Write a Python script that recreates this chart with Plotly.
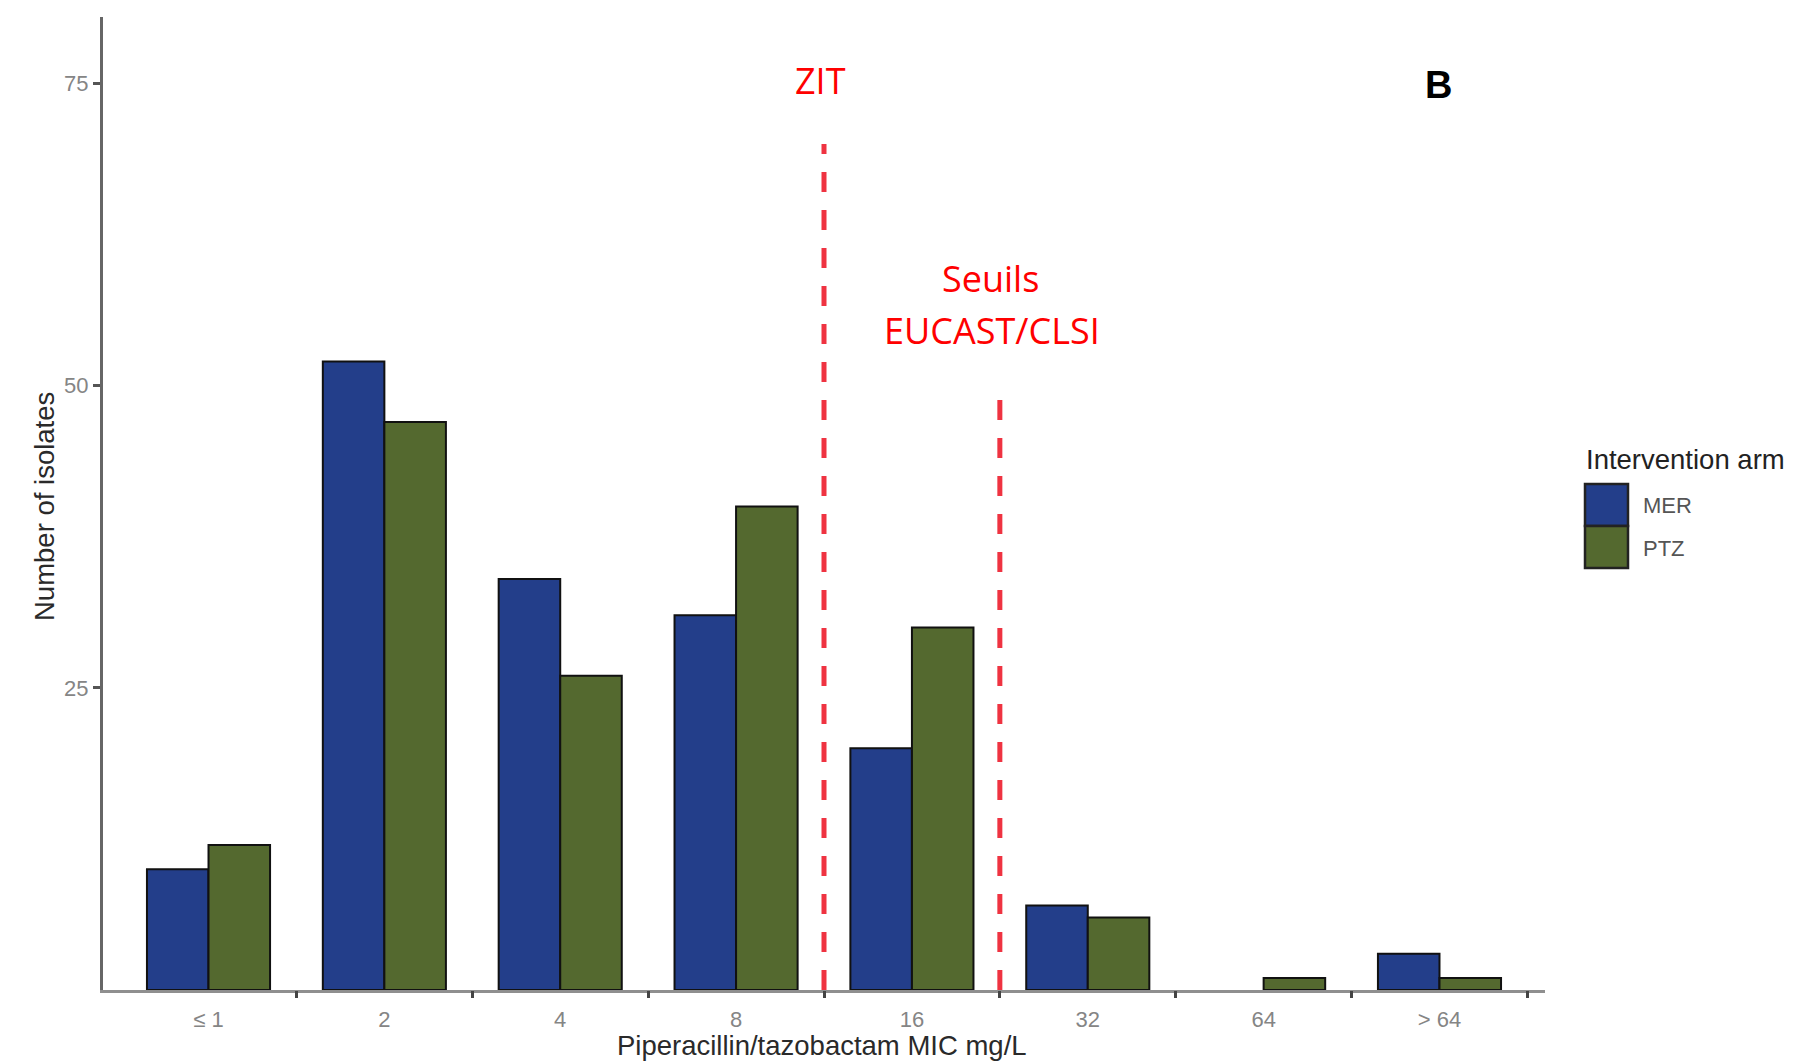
import plotly.graph_objects as go

# MIC categories and isolate counts per intervention arm
categories = ["≤ 1", "2", "4", "8", "16", "32", "64", "> 64"]
mer_counts = [10, 52, 34, 31, 20, 7, 0, 3]
ptz_counts = [12, 47, 26, 40, 30, 6, 1, 1]

# breakpoint markers: position (between categories) and height in isolates
zit_position = 3.5
zit_height = 70
eucast_position = 4.5
eucast_height = 49

y_ticks = [25, 50, 75]
boundary_ticks = [0.5, 1.5, 2.5, 3.5, 4.5, 5.5, 6.5, 7.5]

MER_COLOR = "#233e8a"
PTZ_COLOR = "#54692f"
EDGE = "#111111"
RED_LINE = "#ef3341"
RED_TEXT = "#ff0000"
SANS = "Liberation Sans, Arial, sans-serif"
LABEL_FONT = "Open Sans, Noto Sans, sans-serif"

W, H = 1814, 1062
L, R, T, B = 103, 1545, 17, 990
X_RANGE = [-0.60, 7.60]


def px(xpix):
    return (xpix - L) / (R - L)


def py(ypix):
    return (B - ypix) / (B - T)


def edge_widths(values):
    # no outline on empty bars so nothing is drawn along the baseline
    return [0 if v == 0 else 2 for v in values]


fig = go.Figure()
fig.add_trace(go.Bar(x=categories, y=mer_counts, name="MER",
                     marker=dict(color=MER_COLOR,
                                 line=dict(color=EDGE, width=edge_widths(mer_counts)))))
fig.add_trace(go.Bar(x=categories, y=ptz_counts, name="PTZ",
                     marker=dict(color=PTZ_COLOR,
                                 line=dict(color=EDGE, width=edge_widths(ptz_counts)))))

shapes = []
for pos, top in [(zit_position, zit_height), (eucast_position, eucast_height)]:
    shapes.append(dict(type="line", xref="x2", yref="y", x0=pos, x1=pos, y0=0, y1=top,
                       line=dict(color=RED_LINE, width=5, dash="20px,18px")))

# legend keys
for (top, bot), col in [((484, 526), MER_COLOR), ((526, 568), PTZ_COLOR)]:
    shapes.append(dict(type="rect", xref="paper", yref="paper",
                       x0=px(1585), x1=px(1628), y0=py(bot), y1=py(top),
                       fillcolor=col, line=dict(color="#222222", width=2.5)))

annotations = [
    dict(text="ZIT", x=px(820), y=py(81), font=dict(family=LABEL_FONT, size=36, color=RED_TEXT)),
    dict(text="Seuils", x=px(991), y=py(278), font=dict(family=LABEL_FONT, size=36, color=RED_TEXT)),
    dict(text="EUCAST/CLSI", x=px(992), y=py(330.5), font=dict(family=LABEL_FONT, size=36, color=RED_TEXT)),
    dict(text="<b>B</b>", x=px(1438), y=py(85), font=dict(family=SANS, size=38, color="#000000")),
    dict(text="Piperacillin/tazobactam MIC mg/L", x=px(822), y=py(1045),
         font=dict(family=SANS, size=27.5, color="#2a2a2a")),
    dict(text="Number of isolates", x=px(44), y=py(507), textangle=-90,
         font=dict(family=SANS, size=27.5, color="#2a2a2a")),
    dict(text="Intervention arm", x=px(1584), y=py(460), xanchor="left",
         font=dict(family=SANS, size=27.5, color="#222222")),
    dict(text="MER", x=px(1641), y=py(506), xanchor="left",
         font=dict(family=SANS, size=22, color="#555555")),
    dict(text="PTZ", x=px(1641), y=py(548), xanchor="left",
         font=dict(family=SANS, size=22, color="#555555")),
]
for a in annotations:
    a.setdefault("xanchor", "center")
    a.update(xref="paper", yref="paper", yanchor="middle", showarrow=False)

fig.update_layout(
    width=W, height=H, autosize=False,
    margin=dict(l=L, r=W - R, t=T, b=H - B, pad=0),
    paper_bgcolor="white", plot_bgcolor="white",
    barmode="group", bargap=0.3, bargroupgap=0,
    showlegend=False,
    shapes=shapes, annotations=annotations,
    xaxis=dict(type="category", categoryorder="array", categoryarray=categories,
               range=X_RANGE, showline=True, linecolor="#8f8f8f", linewidth=3,
               ticks="", showgrid=False, zeroline=False, ticklabelstandoff=8,
               tickfont=dict(family=SANS, size=22, color="#858585")),
    xaxis2=dict(overlaying="x", anchor="y", side="bottom", type="linear",
                range=X_RANGE, tickvals=boundary_ticks, ticks="outside", ticklen=7,
                tickwidth=2.5, tickcolor="#444444", showticklabels=False,
                showline=False, showgrid=False, zeroline=False),
    yaxis=dict(range=[0, 80.5], tickvals=y_ticks, ticks="outside", ticklen=7,
               tickwidth=2.7, tickcolor="#555555", showline=True, linecolor="#666666",
               linewidth=3, showgrid=False, zeroline=False,
               tickfont=dict(family=SANS, size=22, color="#858585")),
)

fig.write_html("out.html")
